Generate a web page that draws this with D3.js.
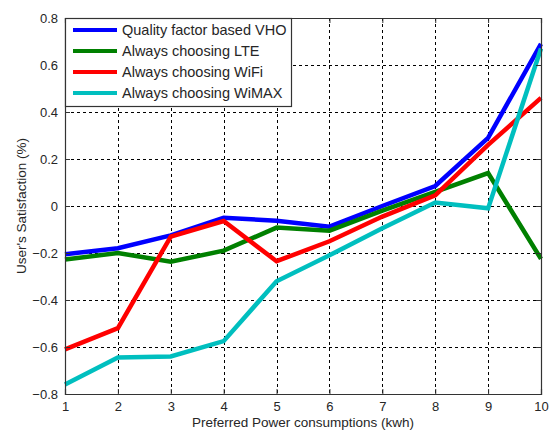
<!DOCTYPE html>
<html>
<head>
<meta charset="utf-8">
<script src="https://cdn.jsdelivr.net/npm/d3@7"></script>
<style>
  html, body { margin: 0; padding: 0; background: #fff; }
  svg { display: block; font-family: "Liberation Sans", Arial, sans-serif; }
</style>
</head>
<body>
<svg id="chart" width="549" height="432"></svg>
<script>
// Preferred power consumption levels (kWh)
const power = [1, 2, 3, 4, 5, 6, 7, 8, 9, 10];

// User satisfaction per strategy
const vho   = [-0.205, -0.18, -0.125, -0.05, -0.063, -0.088, 0.0, 0.085, 0.29, 0.69];
const lte   = [-0.228, -0.2, -0.237, -0.19, -0.092, -0.105, -0.02, 0.06, 0.14, -0.225];
const wifi  = [-0.61, -0.52, -0.13, -0.064, -0.235, -0.15, -0.045, 0.045, 0.26, 0.46];
const wimax = [-0.76, -0.645, -0.64, -0.575, -0.32, -0.21, -0.095, 0.015, -0.01, 0.67];

const seriesNames  = ["Quality factor based VHO", "Always choosing LTE", "Always choosing WiFi", "Always choosing WiMAX"];
const seriesColors = ["#0000ff", "#008000", "#ff0000", "#00bfbf"];
const seriesValues = [vho, lte, wifi, wimax];

const xTicks = [1, 2, 3, 4, 5, 6, 7, 8, 9, 10];
const yTicks = [-0.8, -0.6, -0.4, -0.2, 0, 0.2, 0.4, 0.6, 0.8];

const margin = { left: 65, right: 8, top: 18, bottom: 38 };
const W = 549, H = 432;
const svg = d3.select("#chart");

const x = d3.scaleLinear().domain([1, 10]).range([margin.left, W - margin.right]);
const y = d3.scaleLinear().domain([-0.8, 0.8]).range([H - margin.bottom, margin.top]);

const textColor = "#262626";

// Grid
const grid = svg.append("g");
grid.selectAll(".vg").data(xTicks.slice(1, -1)).join("line")
  .attr("x1", d => Math.round(x(d)) + 0.5).attr("x2", d => Math.round(x(d)) + 0.5)
  .attr("y1", y(0.8)).attr("y2", y(-0.8))
  .attr("stroke", "#000").attr("stroke-width", 1).attr("stroke-dasharray", "3,3");
grid.selectAll(".hg").data(yTicks.slice(1, -1)).join("line")
  .attr("x1", x(1)).attr("x2", x(10))
  .attr("y1", d => Math.round(y(d)) + 0.5).attr("y2", d => Math.round(y(d)) + 0.5)
  .attr("stroke", "#000").attr("stroke-width", 1).attr("stroke-dasharray", "3,3");

// Series lines
const line = d3.line().x((d, i) => x(power[i])).y(d => y(d));
seriesValues.forEach((vals, k) => {
  svg.append("path")
    .datum(vals)
    .attr("d", line)
    .attr("fill", "none")
    .attr("stroke", seriesColors[k])
    .attr("stroke-width", 4.5)
    .attr("stroke-linejoin", "miter");
});

// Axes (boxed, with inward ticks)
const axisStroke = "#333";
const bottomAxis = d3.axisBottom(x).tickValues(xTicks).tickSize(-5).tickPadding(8).tickFormat(d3.format("d"));
const leftAxis = d3.axisLeft(y).tickValues(yTicks).tickSize(-5).tickPadding(7)
  .tickFormat(d => d === 0 ? "0" : d3.format(".1f")(d));

const gx = svg.append("g").attr("transform", `translate(0,${y(-0.8)})`).call(bottomAxis);
const gy = svg.append("g").attr("transform", `translate(${x(1)},0)`).call(leftAxis);
const gxt = svg.append("g").attr("transform", `translate(0,${y(0.8)})`)
  .call(d3.axisTop(x).tickValues(xTicks).tickSize(-5).tickFormat(""));
const gyr = svg.append("g").attr("transform", `translate(${x(10)},0)`)
  .call(d3.axisRight(y).tickValues(yTicks).tickSize(-5).tickFormat(""));

[gx, gy, gxt, gyr].forEach(g => {
  g.select(".domain").attr("stroke", axisStroke).attr("stroke-width", 1.2);
  g.selectAll(".tick line").attr("stroke", axisStroke);
  g.selectAll("text").attr("fill", textColor).style("font-size", "13px")
    .style("font-family", "'Liberation Sans', Arial, sans-serif");
});

// Axis titles
svg.append("text")
  .attr("x", (x(1) + x(10)) / 2).attr("y", 427)
  .attr("text-anchor", "middle")
  .attr("fill", textColor).style("font-size", "13.5px")
  .text("Preferred Power consumptions (kwh)");

svg.append("text")
  .attr("transform", `translate(26,${(y(0.8) + y(-0.8)) / 2}) rotate(-90)`)
  .attr("text-anchor", "middle")
  .attr("fill", textColor).style("font-size", "13.5px")
  .text("User's Satisfaction (%)");

// Legend
const lg = svg.append("g").attr("transform", `translate(${x(1)},${y(0.8)})`);
lg.append("rect")
  .attr("x", 0.5).attr("y", 0.5).attr("width", 226).attr("height", 88)
  .attr("fill", "#fff").attr("stroke", axisStroke).attr("stroke-width", 1.2);
seriesNames.forEach((name, i) => {
  const yy = 12 + i * 21;
  lg.append("line")
    .attr("x1", 8).attr("x2", 52).attr("y1", yy).attr("y2", yy)
    .attr("stroke", seriesColors[i]).attr("stroke-width", 4);
  lg.append("text")
    .attr("x", 57).attr("y", yy + 5)
    .attr("fill", textColor).style("font-size", "14.5px")
    .text(name);
});
</script>
</body>
</html>
